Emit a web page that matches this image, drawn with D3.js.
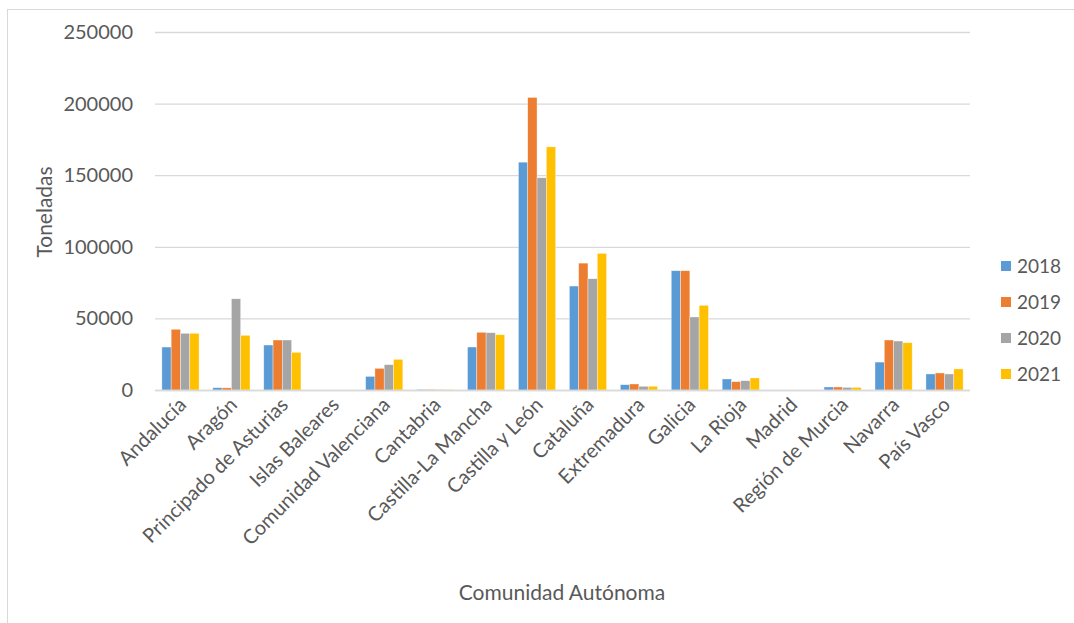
<!DOCTYPE html>
<html>
<head>
<meta charset="utf-8">
<script src="https://cdn.jsdelivr.net/npm/d3@7"></script>
<style>
  html, body { margin: 0; padding: 0; background: #fff; }
  svg { display: block; font-family: Lato, "Open Sans", sans-serif; }
</style>
</head>
<body>
<svg id="chart" width="1074" height="623"></svg>
<script>
// Toneladas por comunidad autónoma, 2018–2021
const categories = ["Andalucía", "Aragón", "Principado de Asturias", "Islas Baleares",
  "Comunidad Valenciana", "Cantabria", "Castilla-La Mancha", "Castilla y León",
  "Cataluña", "Extremadura", "Galicia", "La Rioja", "Madrid", "Región de Murcia",
  "Navarra", "País Vasco"];
const years = ["2018", "2019", "2020", "2021"];
const values2018 = [30000, 1600, 31400, 0, 9500, 500, 30000, 159100, 72600, 3700, 83300, 7700, 0, 2100, 19500, 11200];
const values2019 = [42400, 1500, 34900, 0, 15100, 500, 40300, 204300, 88600, 4200, 83300, 5800, 0, 2100, 34900, 11900];
const values2020 = [39600, 63700, 34900, 0, 17700, 400, 40000, 148200, 77700, 2600, 51000, 6500, 0, 1800, 34200, 11200];
const values2021 = [39600, 38200, 26300, 0, 21400, 400, 38600, 169800, 95400, 2600, 59100, 8400, 0, 1800, 33000, 14700];
const yTicks = [0, 50000, 100000, 150000, 200000, 250000];
const colors = ["#5B9BD5", "#ED7D31", "#A5A5A5", "#FFC000"];

const series = [values2018, values2019, values2020, values2021];
const textColor = "#595959";

const svg = d3.select("#chart");

// outer chart frame
svg.append("rect")
  .attr("x", 7.5).attr("y", 9.5).attr("width", 1080).attr("height", 640)
  .attr("fill", "none").attr("stroke", "#d9d9d9").attr("stroke-width", 1);

const plot = { left: 155, right: 970, top: 32, bottom: 390 };

const x = d3.scaleBand().domain(categories).range([plot.left, plot.right]).paddingInner(0.27).paddingOuter(0.135);
const xs = d3.scaleBand().domain(years).range([0, x.bandwidth()]);
const y = d3.scaleLinear().domain([0, 250000]).range([plot.bottom, plot.top]);

// gridlines and y tick labels
const yAxis = d3.axisLeft(y).tickValues(yTicks).tickSize(plot.right - plot.left).tickPadding(22).tickFormat(d3.format("d"));
const gy = svg.append("g").attr("transform", `translate(${plot.right},0)`).call(yAxis);
gy.select(".domain").remove();
gy.selectAll(".tick line").attr("stroke", "#d9d9d9").attr("stroke-width", 1.3);
gy.selectAll(".tick text").attr("fill", textColor).attr("font-size", 20).attr("font-family", "Lato, sans-serif");

// bars
const groups = svg.append("g").selectAll("g").data(categories).join("g")
  .attr("transform", d => `translate(${x(d)},0)`);
groups.selectAll("rect")
  .data((c, i) => years.map((yr, s) => ({ yr, s, v: series[s][i] })))
  .join("rect")
  .attr("x", d => xs(d.yr))
  .attr("width", xs.bandwidth())
  .attr("y", d => y(d.v))
  .attr("height", d => y(0) - y(d.v))
  .attr("fill", d => colors[d.s])
  .attr("stroke", "rgba(255,255,255,0.6)")
  .attr("stroke-width", 0.6);

// category axis line
svg.append("line")
  .attr("x1", plot.left).attr("x2", plot.right)
  .attr("y1", plot.bottom + 0.5).attr("y2", plot.bottom + 0.5)
  .attr("stroke", "#d9d9d9").attr("stroke-width", 1.3);

// rotated category labels
const gx = svg.append("g").attr("transform", `translate(0,${plot.bottom})`)
  .call(d3.axisBottom(x).tickSize(0).tickPadding(0));
gx.select(".domain").remove();
gx.selectAll(".tick text")
  .attr("fill", textColor)
  .attr("font-size", 20)
  .attr("font-family", "Lato, sans-serif")
  .attr("text-anchor", "end")
  .attr("dy", null)
  .attr("y", 0)
  .attr("transform", "translate(7,16) rotate(-45)");

// axis titles
svg.append("text")
  .attr("transform", "translate(52,212) rotate(-90)")
  .attr("text-anchor", "middle")
  .attr("fill", textColor)
  .attr("font-size", 21)
  .text("Toneladas");

svg.append("text")
  .attr("x", 562).attr("y", 600)
  .attr("text-anchor", "middle")
  .attr("fill", textColor)
  .attr("font-size", 21)
  .text("Comunidad Autónoma");

// legend
const legend = svg.append("g").selectAll("g").data(years).join("g")
  .attr("transform", (d, i) => `translate(1001,${261 + i * 36})`);
legend.append("rect").attr("width", 10).attr("height", 10).attr("fill", (d, i) => colors[i]);
legend.append("text")
  .attr("x", 16).attr("y", 5).attr("dy", "0.35em")
  .attr("fill", textColor).attr("font-size", 19)
  .text(d => d);
</script>
</body>
</html>
